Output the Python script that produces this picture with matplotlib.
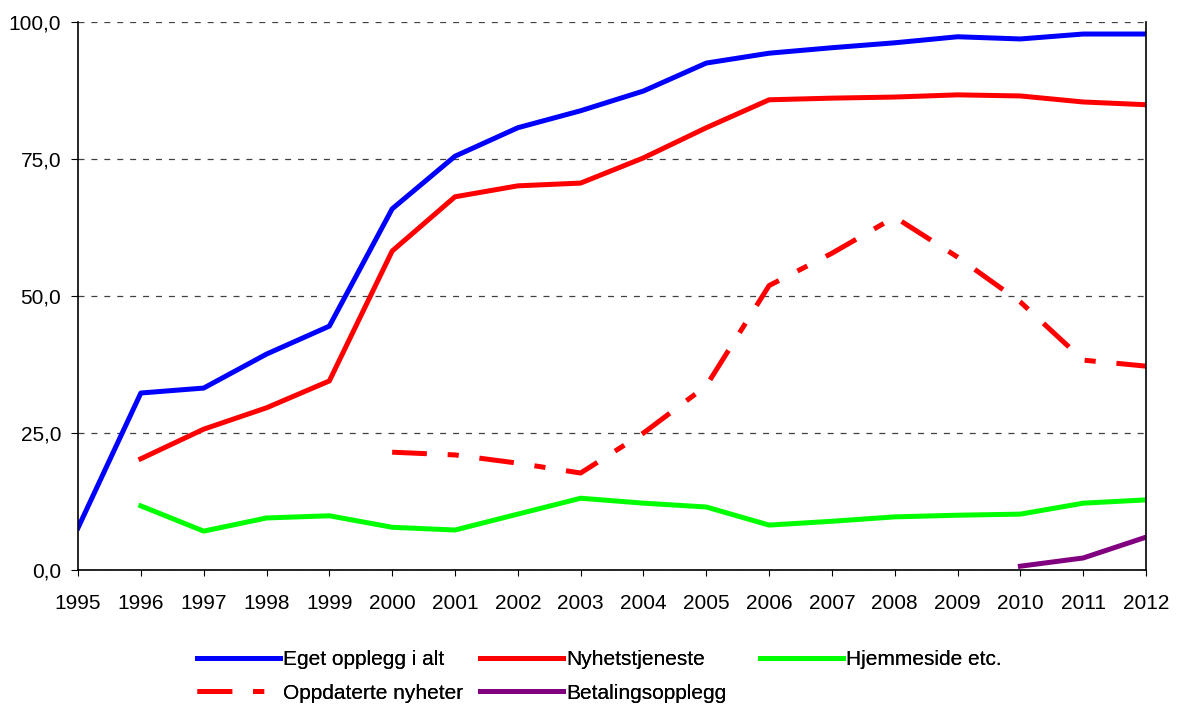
import matplotlib.pyplot as plt
from matplotlib.ticker import FuncFormatter

plt.rcParams['font.family'] = ['Liberation Sans', 'DejaVu Sans']
plt.rcParams['lines.scale_dashes'] = False

years = list(range(1995, 2013))

# Eget opplegg i alt
eget = [7.7, 32.3, 33.2, 39.4, 44.5, 65.9, 75.5, 80.7, 83.8, 87.4,
        92.5, 94.3, 95.3, 96.2, 97.3, 96.9, 97.8, 97.8]
# Nyhetstjeneste (from 1996)
nyhet_years = years[1:]
nyhet = [20.3, 25.7, 29.6, 34.5, 58.2, 68.1, 70.1, 70.6, 75.2,
         80.7, 85.8, 86.1, 86.3, 86.7, 86.5, 85.4, 84.9]
# Hjemmeside etc. (from 1996)
hjem = [11.7, 7.1, 9.5, 9.9, 7.8, 7.3, 10.2, 13.1, 12.2,
        11.5, 8.2, 8.9, 9.7, 10.0, 10.2, 12.2, 12.8]
# Oppdaterte nyheter (from 2000)
oppd_years = years[5:]
oppd = [21.5, 21.0, 19.5, 17.7, 25.0, 33.6, 51.9, 57.8, 64.4,
        57.1, 48.9, 38.3, 37.2]
# Betalingsopplegg (from 2010)
betal_years = [2010, 2011, 2012]
betal = [0.7, 2.2, 6.0]

fig = plt.figure(figsize=(11.77, 7.04), dpi=100)
ax = fig.add_axes([0.0663, 0.1903, 0.9074, 0.7785])

lw = 3.6
l1, = ax.plot(years, eget, color='#0000FF', lw=lw, label='Eget opplegg i alt')
l2, = ax.plot(nyhet_years, nyhet, color='#FF0000', lw=lw, label='Nyhetstjeneste')
l3, = ax.plot(nyhet_years, hjem, color='#00FF00', lw=lw, label='Hjemmeside etc.')
l4, = ax.plot(oppd_years, oppd, color='#FF0000', lw=lw, dashes=(25, 15, 8, 15),
              label='Oppdaterte nyheter')
l5, = ax.plot(betal_years, betal, color='#800080', lw=lw, label='Betalingsopplegg')

ax.set_xlim(1995, 2012)
ax.set_ylim(0, 100)
ax.set_xticks(years)
ax.set_yticks([0, 25, 50, 75, 100])
ax.yaxis.set_major_formatter(FuncFormatter(lambda v, p: f'{v:.1f}'.replace('.', ',')))

ax.grid(axis='y', color='#404040', lw=0.9, dashes=(4.3, 5))
ax.set_axisbelow(True)
ax.spines['top'].set_visible(False)
for s in ['left', 'right', 'bottom']:
    ax.spines[s].set_color('black')
    ax.spines[s].set_linewidth(1.2)
ax.tick_params(axis='x', labelsize=15, length=4, pad=13, direction='out')
ax.tick_params(axis='y', labelsize=15, length=5, pad=7, direction='out')

# legend: three columns placed like the original
cols = [([l1, l4], 197), ([l2, l5], 480), ([l3], 760)]
for handles, xpx in cols:
    leg = fig.legend(handles=handles, loc='upper left',
                     bbox_to_anchor=(xpx / 1177, 1 - 650 / 704),
                     frameon=False, fontsize=15, handlelength=4.0,
                     handletextpad=0.15, labelspacing=0.7,
                     borderpad=0, borderaxespad=0)
    fig.add_artist(leg)

fig.savefig('out.png', dpi=100)
